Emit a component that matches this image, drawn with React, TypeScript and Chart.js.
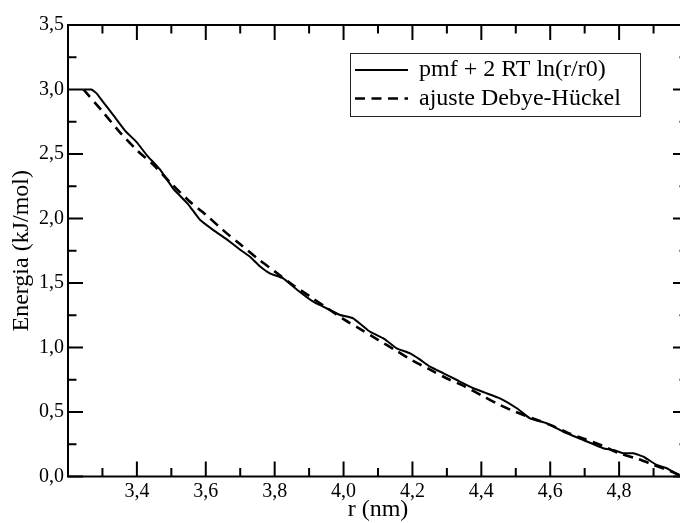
import React, { useEffect, useRef } from "react";
import { Chart, registerables } from "chart.js";

Chart.register(...registerables);

// ---- Data ----
const rPmf = [3.244, 3.268, 3.283, 3.30, 3.332, 3.366, 3.40, 3.429, 3.467, 3.506, 3.549, 3.583, 3.622, 3.66, 3.699, 3.73, 3.757, 3.786, 3.825, 3.864, 3.912, 3.97, 3.99, 4.028, 4.077, 4.116, 4.154, 4.193, 4.22, 4.251, 4.29, 4.329, 4.377, 4.41, 4.454, 4.503, 4.541, 4.59, 4.638, 4.696, 4.754, 4.783, 4.812, 4.842, 4.871, 4.909, 4.938, 4.977];
const ePmf = [3.00, 3.00, 2.97, 2.91, 2.80, 2.68, 2.59, 2.49, 2.38, 2.23, 2.11, 1.99, 1.91, 1.84, 1.76, 1.70, 1.63, 1.575, 1.536, 1.45, 1.355, 1.278, 1.252, 1.226, 1.122, 1.071, 0.994, 0.955, 0.91, 0.851, 0.80, 0.748, 0.684, 0.65, 0.606, 0.529, 0.451, 0.412, 0.347, 0.283, 0.219, 0.205, 0.18, 0.18, 0.153, 0.089, 0.064, 0.005];

const rFit = [3.245, 3.30, 3.35, 3.40, 3.45, 3.50, 3.55, 3.60, 3.65, 3.70, 3.75, 3.80, 3.85, 3.90, 3.95, 4.00, 4.05, 4.10, 4.15, 4.20, 4.25, 4.30, 4.35, 4.40, 4.45, 4.50, 4.55, 4.60, 4.65, 4.70, 4.75, 4.80, 4.85, 4.90, 4.95, 4.976];
const eFit = [3.00, 2.83, 2.67, 2.53, 2.41, 2.27, 2.14, 2.03, 1.91, 1.80, 1.69, 1.59, 1.49, 1.40, 1.31, 1.22, 1.14, 1.06, 0.98, 0.90, 0.83, 0.76, 0.70, 0.63, 0.56, 0.50, 0.45, 0.40, 0.34, 0.29, 0.24, 0.18, 0.14, 0.09, 0.04, 0.01];

const seriesLabels = ["pmf + 2 RT ln(r/r0)", "ajuste Debye-Hückel"];

const xLabelTicks = [3.4, 3.6, 3.8, 4.0, 4.2, 4.4, 4.6, 4.8];
const xMajorTicks = [3.4, 3.6, 3.8, 4.0, 4.2, 4.4, 4.6, 4.8];
const xMinorTicks = [3.3, 3.5, 3.7, 3.9, 4.1, 4.3, 4.5, 4.7, 4.9];
const yMajorTicks = [0, 0.5, 1.0, 1.5, 2.0, 2.5, 3.0, 3.5];
const yMinorTicks = [0.25, 0.75, 1.25, 1.75, 2.25, 2.75, 3.25];

const X_MIN = 3.2;
const X_MAX = 5.0;
const Y_MIN = 0;
const Y_MAX = 3.5;

const FONT = "'Liberation Serif', 'Times New Roman', Times, serif";

const fmt = (v: number, d: number) => v.toFixed(d).replace(".", ",");

const frameTicksPlugin = {
  id: "frameTicks",
  afterDatasetsDraw(chart: any) {
    const { ctx, chartArea, scales } = chart;
    const { left, right, top, bottom } = chartArea;
    const xs = scales.x;
    const ys = scales.y;
    ctx.save();
    ctx.strokeStyle = "#000";
    ctx.lineWidth = 2;
    ctx.lineCap = "butt";
    ctx.beginPath();
    ctx.rect(left, top, right - left, bottom - top);
    ctx.stroke();
    const MAJ = 15;
    const MIN = 8.5;
    ctx.beginPath();
    const vx = (v: number, len: number) => {
      const p = xs.getPixelForValue(v);
      ctx.moveTo(p, bottom);
      ctx.lineTo(p, bottom - len);
      ctx.moveTo(p, top);
      ctx.lineTo(p, top + len);
    };
    const vy = (v: number, len: number) => {
      const p = ys.getPixelForValue(v);
      ctx.moveTo(left, p);
      ctx.lineTo(left + len, p);
      ctx.moveTo(right, p);
      ctx.lineTo(right - len, p);
    };
    xMajorTicks.forEach((v) => vx(v, MAJ));
    xMinorTicks.forEach((v) => vx(v, MIN));
    yMajorTicks.forEach((v) => vy(v, MAJ));
    yMinorTicks.forEach((v) => vy(v, MIN));
    ctx.stroke();
    ctx.restore();
  },
};

const legendBoxPlugin = {
  id: "legendBox",
  afterDraw(chart: any) {
    const { ctx } = chart;
    const bx = 350.5, by = 53.5, bw = 290, bh = 63;
    ctx.save();
    ctx.fillStyle = "#fff";
    ctx.fillRect(bx, by, bw, bh);
    ctx.strokeStyle = "#222";
    ctx.lineWidth = 1;
    ctx.strokeRect(bx, by, bw, bh);
    const rows = [70, 98.5];
    chart.data.datasets.forEach((ds: any, i: number) => {
      const y = rows[i];
      ctx.beginPath();
      ctx.strokeStyle = "#000";
      ctx.lineWidth = ds.borderWidth;
      ctx.setLineDash(ds.borderDash || []);
      ctx.moveTo(355, y);
      ctx.lineTo(408, y);
      ctx.stroke();
      ctx.setLineDash([]);
      ctx.fillStyle = "#000";
      ctx.font = `24px ${FONT}`;
      ctx.textBaseline = "middle";
      ctx.textAlign = "left";
      ctx.fillText(ds.label, 419, y);
    });
    ctx.restore();
  },
};

export default function App() {
  const ref = useRef<HTMLCanvasElement | null>(null);

  useEffect(() => {
    if (!ref.current) return;
    Chart.defaults.font.family = FONT;
    Chart.defaults.color = "#000";
    const chart = new Chart(ref.current, {
      type: "line",
      data: {
        datasets: [
          {
            label: seriesLabels[0],
            data: rPmf.map((r, i) => ({ x: r, y: ePmf[i] })),
            borderColor: "#000",
            borderWidth: 2,
            pointRadius: 0,
            tension: 0.1,
            fill: false,
          },
          {
            label: seriesLabels[1],
            data: rFit.map((r, i) => ({ x: r, y: eFit[i] })),
            borderColor: "#000",
            borderWidth: 2.6,
            borderDash: [10, 6.5],
            pointRadius: 0,
            tension: 0.3,
            fill: false,
          },
        ],
      },
      options: {
        animation: false,
        responsive: false,
        events: [],
        layout: { padding: { top: 25, right: 12, left: 0, bottom: 0 } },
        plugins: { legend: { display: false }, tooltip: { enabled: false } },
        scales: {
          x: {
            type: "linear",
            min: X_MIN,
            max: X_MAX,
            grid: { display: false, drawTicks: false },
            border: { display: false },
            afterBuildTicks: (s: any) => {
              s.ticks = xLabelTicks.map((v) => ({ value: v }));
            },
            afterFit: (s: any) => {
              s.height = 46.5;
            },
            ticks: {
              autoSkip: false,
              maxRotation: 0,
              padding: 3,
              font: { size: 20, family: FONT },
              color: "#000",
              callback: (v: any) => fmt(Number(v), 1),
            },
            title: {
              display: true,
              text: "r (nm)",
              font: { size: 24, family: FONT, lineHeight: 1 },
              color: "#000",
              padding: { top: 0, bottom: 1 },
            },
          },
          y: {
            type: "linear",
            min: Y_MIN,
            max: Y_MAX,
            grid: { display: false, drawTicks: false },
            border: { display: false },
            afterBuildTicks: (s: any) => {
              s.ticks = yMajorTicks.map((v) => ({ value: v }));
            },
            afterFit: (s: any) => {
              s.width = 68;
            },
            ticks: {
              autoSkip: false,
              padding: 4,
              font: { size: 20, family: FONT },
              color: "#000",
              callback: (v: any) => fmt(Number(v), 1),
            },
            title: {
              display: true,
              text: "Energia (kJ/mol)",
              font: { size: 24, family: FONT, lineHeight: 1.2 },
              color: "#000",
              padding: { top: 7, bottom: 0 },
            },
          },
        },
      },
      plugins: [frameTicksPlugin, legendBoxPlugin],
    } as any);
    return () => chart.destroy();
  }, []);

  return (
    <div
      style={{
        position: "absolute",
        left: 0,
        top: 0,
        width: 680,
        height: 523,
        overflow: "hidden",
        background: "#fff",
      }}
    >
      <canvas ref={ref} width={700} height={523} style={{ display: "block" }} />
    </div>
  );
}
